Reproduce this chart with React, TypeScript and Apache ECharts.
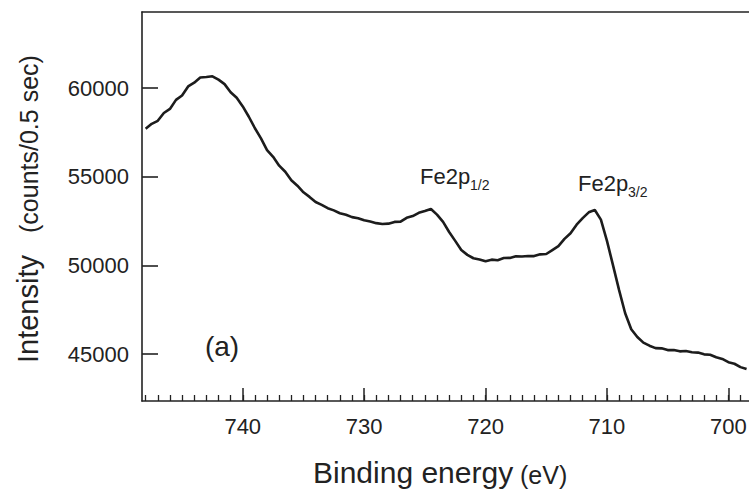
import React, { useEffect, useRef } from "react";
import * as echarts from "echarts";

const energies = [
  748.0, 747.5, 747.0, 746.5, 746.0, 745.5, 745.0, 744.5, 744.0, 743.5,
  743.0, 742.5, 742.0, 741.5, 741.0, 740.5, 740.0, 739.5, 739.0, 738.5,
  738.0, 737.5, 737.0, 736.5, 736.0, 735.5, 735.0, 734.5, 734.0, 733.5,
  733.0, 732.5, 732.0, 731.5, 731.0, 730.5, 730.0, 729.5, 729.0, 728.5,
  728.0, 727.5, 727.0, 726.5, 726.0, 725.5, 725.0, 724.5, 724.0, 723.5,
  723.0, 722.5, 722.0, 721.5, 721.0, 720.5, 720.0, 719.5, 719.0, 718.5,
  718.0, 717.5, 717.0, 716.5, 716.0, 715.5, 715.0, 714.5, 714.0, 713.5,
  713.0, 712.5, 712.0, 711.5, 711.0, 710.5, 710.0, 709.5, 709.0, 708.5,
  708.0, 707.5, 707.0, 706.5, 706.0, 705.5, 705.0, 704.5, 704.0, 703.5,
  703.0, 702.5, 702.0, 701.5, 701.0, 700.5, 700.0, 699.5, 699.0, 698.5,
];

const intensities = [
  57700, 57980, 58150, 58590, 58820, 59330, 59580, 60090, 60300, 60590,
  60620, 60660, 60470, 60220, 59760, 59450, 58960, 58380, 57730, 57160,
  56500, 56120, 55620, 55280, 54800, 54490, 54120, 53860, 53570, 53410,
  53220, 53100, 52940, 52850, 52720, 52660, 52540, 52470, 52380, 52330,
  52350, 52450, 52460, 52680, 52780, 52960, 53060, 53180, 52860, 52450,
  51880, 51380, 50860, 50590, 50400, 50330, 50230, 50320, 50290, 50410,
  50420, 50510, 50500, 50530, 50520, 50620, 50640, 50860, 51080, 51490,
  51810, 52290, 52660, 52990, 53120, 52580, 51380, 50000, 48600, 47300,
  46400, 45960, 45640, 45470, 45330, 45320, 45220, 45230, 45150, 45170,
  45100, 45080, 44980, 44960, 44820, 44720, 44540, 44450, 44260, 44150,
];

const xMajorTicks = [700, 710, 720, 730, 740];
const xMinorTicks = [
  699, 700, 701, 702, 703, 704, 705, 706, 707, 708, 709, 710, 711, 712, 713,
  714, 715, 716, 717, 718, 719, 720, 721, 722, 723, 724, 725, 726, 727, 728,
  729, 730, 731, 732, 733, 734, 735, 736, 737, 738, 739, 740, 741, 742, 743,
  744, 745, 746, 747, 748,
];
const yTicks = [45000, 50000, 55000, 60000];

const FONT = "'Liberation Sans', Arial, Helvetica, sans-serif";
const INK = "#222222";

export default function App() {
  const ref = useRef<HTMLDivElement>(null);

  useEffect(() => {
    if (!ref.current) return;
    const chart = echarts.init(ref.current, null, { renderer: "svg" });
    const data = energies.map((e, i) => [e, intensities[i]]);
    const xBase = {
      type: "value",
      min: 698.3,
      max: 748.3,
      inverse: true,
      splitLine: { show: false },
    };
    chart.setOption({
      animation: false,
      backgroundColor: "#ffffff",
      grid: { left: 142, right: 0, top: 12, bottom: 99, containLabel: false, outerBoundsMode: "none" },
      xAxis: [
        {
          ...xBase,
          position: "bottom",
          axisLine: { show: true, onZero: false, lineStyle: { color: INK, width: 1.6 } },
          axisTick: { show: true, inside: true, length: 6, customValues: xMinorTicks, lineStyle: { color: INK, width: 1.3 } },
          axisLabel: { show: false },
        },
        {
          ...xBase,
          position: "bottom",
          axisLine: { show: false, onZero: false },
          axisTick: { show: true, inside: true, length: 13, customValues: xMajorTicks, lineStyle: { color: INK, width: 1.5 } },
          axisLabel: { show: true, customValues: xMajorTicks, fontSize: 22, fontFamily: FONT, color: INK, margin: 14, hideOverlap: false },
        },
        {
          ...xBase,
          position: "top",
          axisLine: { show: true, onZero: false, lineStyle: { color: INK, width: 1.6 } },
          axisTick: { show: false },
          axisLabel: { show: false },
        },
      ],
      yAxis: {
        type: "value",
        min: 42350,
        max: 64286,
        splitLine: { show: false },
        axisLine: { show: true, onZero: false, lineStyle: { color: INK, width: 1.6 } },
        axisTick: { show: true, inside: true, length: 16, customValues: yTicks, lineStyle: { color: INK, width: 1.6 } },
        axisLabel: {
          show: true,
          customValues: yTicks,
          fontSize: 22,
          fontFamily: FONT,
          color: INK,
          margin: 13,
          formatter: (v: number) => String(v),
        },
      },
      series: [
        {
          type: "line",
          xAxisIndex: 0,
          data,
          showSymbol: false,
          smooth: false,
          lineStyle: { color: "#1c1c1c", width: 2.6 },
        },
      ],
      graphic: [
        { type: "text", x: 420, y: 176, style: { text: "Fe2p", fontSize: 22, fontFamily: FONT, fill: INK, align: "left", verticalAlign: "middle" } },
        { type: "text", x: 470, y: 185, style: { text: "1/2", fontSize: 14, fontFamily: FONT, fill: INK, align: "left", verticalAlign: "middle" } },
        { type: "text", x: 578, y: 183, style: { text: "Fe2p", fontSize: 22, fontFamily: FONT, fill: INK, align: "left", verticalAlign: "middle" } },
        { type: "text", x: 628, y: 192, style: { text: "3/2", fontSize: 14, fontFamily: FONT, fill: INK, align: "left", verticalAlign: "middle" } },
        { type: "text", x: 222, y: 346, style: { text: "(a)", fontSize: 28, fontFamily: FONT, fill: INK, align: "center", verticalAlign: "middle" } },
        { type: "text", x: 313, y: 472, style: { text: "Binding energy", fontSize: 30, fontFamily: FONT, fill: INK, align: "left", verticalAlign: "middle" } },
        { type: "text", x: 520, y: 475, style: { text: "(eV)", fontSize: 25, fontFamily: FONT, fill: INK, align: "left", verticalAlign: "middle" } },
        {
          type: "group",
          x: 28,
          y: 363,
          rotation: Math.PI / 2,
          children: [
            { type: "text", x: 0, y: 0, style: { text: "Intensity", fontSize: 29, fontFamily: FONT, fill: INK, align: "left", verticalAlign: "middle" } },
            { type: "text", x: 130, y: 1, style: { text: "(counts/0.5 sec)", fontSize: 25, fontFamily: FONT, fill: INK, align: "left", verticalAlign: "middle" } },
          ],
        },
      ],
    });
    return () => chart.dispose();
  }, []);

  return <div ref={ref} style={{ width: 749, height: 500, position: "absolute", left: 0, top: 0 }} />;
}
